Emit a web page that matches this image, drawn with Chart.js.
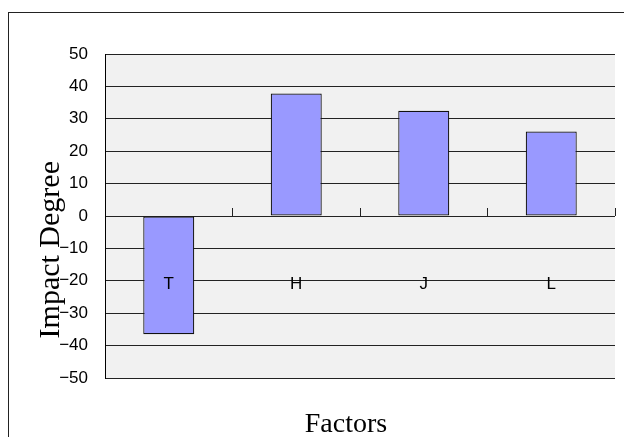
<!DOCTYPE html>
<html>
<head>
<meta charset="utf-8">
<script src="https://cdn.jsdelivr.net/npm/chart.js@4"></script>
<style>
  body { margin: 0; background: #fff; overflow: hidden; }
  #wrap { position: relative; width: 624px; height: 437px; }
  #frame { position: absolute; left: 8px; top: 12px; width: 700px; height: 500px;
           border-left: 1px solid #222; border-top: 1px solid #222; }
  canvas { position: absolute; left: 0; top: 0; }
</style>
</head>
<body>
<div id="wrap">
  <div id="frame"></div>
  <canvas id="barChart" width="624" height="437"></canvas>
</div>
<script>
const categories = ['T', 'H', 'J', 'L'];
const impactValues = [-36.5, 37.8, 32.5, 26.1];
const yMin = -50, yMax = 50, yStep = 10;
const yTitle = 'Impact Degree';
const xTitle = 'Factors';

// grey plot background
const plotBg = {
    id: 'plotBg',
    beforeDraw(chart) {
        const a = chart.chartArea, ctx = chart.ctx;
        ctx.save();
        ctx.fillStyle = '#f1f1f1';
        ctx.fillRect(a.left, a.top, a.right - a.left, a.bottom - a.top);
        ctx.restore();
    }
};

const barChart = new Chart(document.getElementById('barChart'), {
    type: 'bar',
    data: {
        labels: categories,
        datasets: [{
            label: 'Impact Degree',
            data: impactValues,
            backgroundColor: '#9999ff',
            borderColor: '#111',
            borderWidth: 1.2,
            borderSkipped: false,
            barPercentage: 0.4,
            categoryPercentage: 1,
            xAxisID: 'x'
        }]
    },
    options: {
        responsive: false,
        animation: false,
        layout: { padding: { left: 8, top: 54, right: 9, bottom: 0 } },
        plugins: { legend: { display: false }, tooltip: { enabled: false } },
        scales: {
            x: {
                type: 'category',
                position: { y: 0 },
                offset: true,
                grid: { offset: true, drawOnChartArea: false, drawTicks: true, tickLength: -8, color: '#222' },
                border: { display: false },
                ticks: { z: 1, color: '#000', padding: 66, font: { family: 'Liberation Sans', size: 17 } }
            },
            x2: {
                type: 'category',
                position: 'bottom',
                labels: categories,
                grid: { display: false },
                border: { display: false },
                ticks: { display: false },
                title: {
                    display: true,
                    text: xTitle + '    ',
                    color: '#000',
                    padding: 0,
                    font: { family: 'Liberation Serif', size: 28, lineHeight: 0.9 }
                },
                afterFit(scale) { scale.height = 59; }
            },
            y: {
                min: yMin,
                max: yMax,
                ticks: {
                    stepSize: yStep,
                    color: '#000',
                    padding: 17,
                    font: { family: 'Liberation Sans', size: 17 },
                    callback: v => String(v).replace('-', '\u2212')
                },
                grid: { color: '#222', drawTicks: false },
                border: { display: true, color: '#000', width: 1 },
                title: {
                    display: true,
                    text: yTitle + '         ',
                    color: '#000',
                    padding: { top: 25, bottom: 0 },
                    font: { family: 'Liberation Serif', size: 30, lineHeight: 1.2 }
                },
                afterFit(scale) { scale.width = 97; }
            }
        }
    },
    plugins: [plotBg]
});
</script>
</body>
</html>
